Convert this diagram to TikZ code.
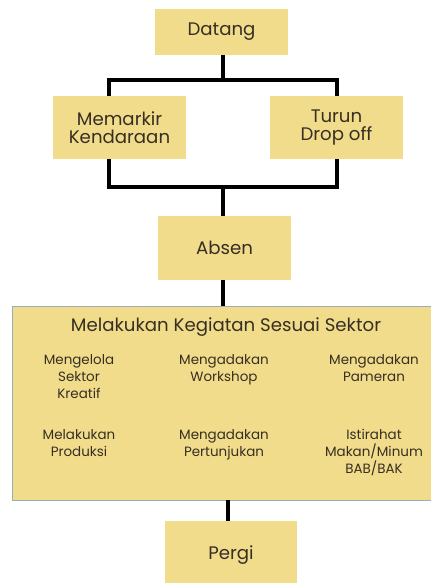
\documentclass[tikz,border=0pt]{standalone}
\usepackage{fontspec}
\setmainfont{Poppins}
\usepackage{tikz}
\usetikzlibrary{calc}
\definecolor{kuning}{RGB}{240,220,138}
\definecolor{tulisan}{RGB}{55,47,35}
\definecolor{garis}{RGB}{150,175,185}
\tikzset{
	kotak/.style={fill=kuning, text=tulisan, align=center, inner sep=0pt, font=\fontsize{15.5}{15}\selectfont},
	isi/.style={text=tulisan, align=center, inner sep=0pt, font=\fontsize{11.5}{14.5}\selectfont},
	link/.style={line width=4.2pt, black}
}

\begin{document}
\begin{tikzpicture}[x=0.03cm,y=-0.03cm]
			%%%%% START %%%%%
			\def\kiri{109}
			\def\kanan{337}
			\def\tengah{223}
			\def\ysatu{80}
			\def\ydua{187}
			\def\colA{79}
			\def\colB{224}
			\def\colC{374}
			
			\useasboundingbox[fill=white] (0,0) rectangle (431,583);
			
			\node[kotak, minimum width=3.99cm, minimum height=1.38cm] (datang) at (221.5,32) {Datang};
			\node[kotak, minimum width=3.99cm, minimum height=1.89cm] (memarkir) at (119.5,127.5) {Memarkir\\Kendaraan};
			\node[kotak, minimum width=3.99cm, minimum height=1.89cm] (turun) at (336.5,127.5) {Turun\\Drop off};
			\node[kotak, minimum width=3.99cm, minimum height=1.92cm] (absen) at (224.5,248) {Absen};
			\node[kotak, draw=garis, line width=0.5pt, minimum width=12.63cm, minimum height=5.82cm] (sektor) at (222.5,403) {};
			\node[kotak] (judul) at (226,327) {Melakukan Kegiatan Sesuai Sektor};
			\node[kotak, minimum width=3.96cm, minimum height=2.07cm] (pergi) at (231,555.5) {Pergi};
			
			\node[isi, anchor=north] (kelola) at (\colA,354) {Mengelola\\Sektor\\Kreatif};
			\node[isi, anchor=north] (workshop) at (\colB,354) {Mengadakan\\Workshop};
			\node[isi, anchor=north] (pameran) at (\colC,354) {Mengadakan\\Pameran};
			\node[isi, anchor=north] (produksi) at (\colA,429) {Melakukan\\Produksi};
			\node[isi, anchor=north] (pertunjukan) at (\colB,429) {Mengadakan\\Pertunjukan};
			\node[isi, anchor=north] (istirahat) at (\colC,429) {Istirahat\\Makan/Minum\\BAB/BAK};
			
			\coordinate (cabang) at (\tengah,\ysatu);
			\coordinate (gabung) at (\tengah,\ydua);
			
			\draw[link] (datang.south -| cabang) -- (cabang);
			\draw[link] (memarkir.north -| \kiri,0) |- (cabang) -| (turun.north -| \kanan,0);
			\draw[link] (memarkir.south -| \kiri,0) |- (gabung) -| (turun.south -| \kanan,0);
			\draw[link] (gabung) -- (absen.north -| gabung);
			\draw[link] (absen.south -| gabung) -- (sektor.north -| gabung);
			\draw[link] (sektor.south -| 228,0) -- (pergi.north -| 228,0);
			%%%%% END %%%%%
\end{tikzpicture}
\end{document}
